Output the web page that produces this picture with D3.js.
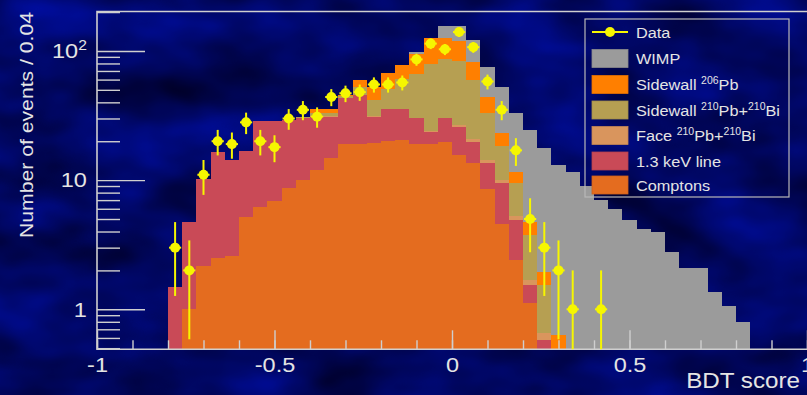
<!DOCTYPE html>
<html>
<head>
<meta charset="utf-8">
<script src="https://cdn.jsdelivr.net/npm/d3@7"></script>
<style>
  html, body { margin: 0; padding: 0; background: #03096a; }
  svg { display: block; }
  text { font-family: "Liberation Sans", Arial, Helvetica, sans-serif; fill: #e4e4e4; }
</style>
</head>
<body>
<svg id="chart" width="807" height="395"></svg>
<script>
// BDT score distribution: stacked background models, WIMP signal and data (bins of 0.04)
const binStart = -0.80;
const binWidth = 0.04;

// Bin contents from -0.80 to 0.84, one entry per bin
const comptons = [0, 1.0, 2.15, 2.5, 2.6, 5.15, 6.15, 6.9, 8.7, 10.0, 11.9, 14.9, 19.0, 19.2, 19.4, 20.1, 20.6, 19.2, 19.0, 19.8, 15.6, 13.6, 8.6, 4.6, 2.41, 1.11,
  0, 0, 0, 0, 0, 0, 0, 0, 0, 0, 0, 0, 0, 0, 0];
const line13 = [1.5, 3.7, 8.1, 14.1, 11.7, 11.6, 22.6, 22.0, 20.5, 20.0, 19.0, 16.0, 24.0, 26.0, 11.5, 15.2, 14.7, 10.8, 4.6, 10.2, 10.2, 6.2, 5.0, 4.9, 2.5, 0.43, 0.58,
  0, 0, 0, 0, 0, 0, 0, 0, 0, 0, 0, 0, 0, 0];
const face210 = [0, 0, 0, 0, 0, 0, 0, 0, 0, 0.2, 0.3, 0.3, 0.4, 0.5, 0.5, 0.5, 0.5, 0.5, 0.4, 0.5, 0.8, 0.9, 0.8, 0.6, 0.4, 0.15, 0.07,
  0, 0, 0, 0, 0, 0, 0, 0, 0, 0, 0, 0, 0, 0];
const sidewall210 = [0, 0, 0, 0, 0, 0, 0, 0, 0, 0.5, 1.8, 1.8, 1.1, 7.0, 10.2, 15.2, 25.0, 36.0, 55.5, 56.5, 57.4, 39.4, 18.7, 8.2, 4.13, 2.06, 0.89,
  0, 0, 0, 0, 0, 0, 0, 0, 0, 0, 0, 0, 0, 0];
const sidewall206 = [0, 0, 0, 0, 0, 0, 0, 0, 0, 0.3, 2.8, 2.8, 1.0, 6.6, 11.1, 16.0, 16.7, 28.5, 45.5, 39.0, 36.0, 22.1, 11.0, 4.7, 2.17, 1.01, 0.41, 0.63,
  0, 0, 0, 0, 0, 0, 0, 0, 0, 0, 0, 0, 0];
const wimp = [0, 0, 0, 0, 0, 0, 0, 0, 0, 0, 0, 0, 0, 0, 0, 0, 0, 3.5, 2.0, 30, 37, 38.8, 31.1, 29.7, 21.2, 19.6, 15.65, 12.5, 11.5, 9.0, 7.0, 6.0, 4.9, 4.2, 4.0, 2.8, 2.07, 2.1, 1.37, 1.06, 0.8];
const dataCounts = [3, 2, 11, 20, 19, 28, 20, 18, 30, 35, 31, 44, 47, 48, 55, 55, 57, 86, 114, 103, 140, 107, 58, 35, 17, 5, 3, 2, 1, 0, 1,
  0, 0, 0, 0, 0, 0, 0, 0, 0, 0];

const xTickLabels = [-1, -0.5, 0, 0.5, 1];
const yTickLabels = [1, 10, 100];
const yMinorTicks = [0.5, 0.6, 0.7, 0.8, 0.9, 2, 3, 4, 5, 6, 7, 8, 9, 20, 30, 40, 50, 60, 70, 80, 90, 200];

// Stack order, bottom to top
const layers = [
  { key: "comptons", values: comptons, color: "#e46c1f", label: ["Comptons"] },
  { key: "line13", values: line13, color: "#c94a57", label: ["1.3 keV line"] },
  { key: "face210", values: face210, color: "#d9955d", label: ["Face ", ["210"], "Pb+", ["210"], "Bi"] },
  { key: "sidewall210", values: sidewall210, color: "#b69f52", label: ["Sidewall ", ["210"], "Pb+", ["210"], "Bi"] },
  { key: "sidewall206", values: sidewall206, color: "#ff7f00", label: ["Sidewall ", ["206"], "Pb"] },
  { key: "wimp", values: wimp, color: "#9b9b9b", label: ["WIMP"] }
];

const W = 807, H = 395;
const svg = d3.select("#chart");

// Textured navy backdrop
const defs = svg.append("defs");
const tex = defs.append("filter").attr("id", "tex")
  .attr("filterUnits", "userSpaceOnUse").attr("x", 0).attr("y", 0).attr("width", W).attr("height", H)
  .attr("color-interpolation-filters", "sRGB");
tex.append("feTurbulence").attr("type", "fractalNoise").attr("baseFrequency", "0.010 0.018")
  .attr("numOctaves", 3).attr("seed", 5);
tex.append("feColorMatrix").attr("type", "matrix")
  .attr("values", "0 0 0 0 0  0.06 0 0 0 -0.005  0.55 0 0 0 0.11  0 0 0 0 1");
svg.append("rect").attr("width", W).attr("height", H).attr("filter", "url(#tex)");

const plotL = 97, plotR = 807, plotT = 11.5, plotB = 349.3;
const x = d3.scaleLinear().domain([-1, 1]).range([plotL, plotR]);
const y = d3.scaleLog().domain([0.49, 202]).range([plotB, plotT]).clamp(true);

// Stacked histogram, one stepped area per component
const rows = dataCounts.map((_, i) => {
  const r = { lo: binStart + i * binWidth };
  layers.forEach(l => { r[l.key] = l.values[i]; });
  return r;
});
const stack = d3.stack().keys(layers.map(l => l.key))(rows);
const area = d3.area()
  .x(p => x(p.x))
  .y0(p => y(p.b > 0 ? p.b : 0.49))
  .y1(p => y(p.t > 0 ? p.t : 0.49));
const gHist = svg.append("g").attr("shape-rendering", "crispEdges");
stack.forEach((series, si) => {
  const steps = [];
  series.forEach(d => {
    steps.push({ x: d.data.lo, b: d[0], t: d[1] });
    steps.push({ x: d.data.lo + binWidth, b: d[0], t: d[1] });
  });
  gHist.append("path").attr("d", area(steps)).attr("fill", layers[si].color);
});

// Axes with inward ticks
const axisColor = "#cfcfcf";
function styleAxis(g) {
  g.select(".domain").remove();
  g.selectAll(".tick line").attr("stroke", axisColor).attr("stroke-width", 1.4);
}
svg.append("g").attr("transform", `translate(0,${plotB})`)
  .call(d3.axisBottom(x).tickValues(d3.range(-10, 11).map(v => v / 10)).tickSize(-9).tickFormat(""))
  .call(styleAxis);
const gxMajor = svg.append("g").attr("transform", `translate(0,${plotB})`)
  .call(d3.axisBottom(x).tickValues(xTickLabels).tickSize(-19).tickPadding(7.5).tickFormat(d => String(d)))
  .call(styleAxis);
gxMajor.selectAll(".tick text").attr("font-size", 21).attr("fill", "#e4e4e4")
  .attr("font-family", "'Liberation Sans', Arial, sans-serif").attr("transform", "scale(1.12,1)");

svg.append("g").attr("transform", `translate(${plotL},0)`)
  .call(d3.axisLeft(y).tickValues(yMinorTicks).tickSize(-23).tickFormat(""))
  .call(styleAxis);
const gyMajor = svg.append("g").attr("transform", `translate(${plotL},0)`)
  .call(d3.axisLeft(y).tickValues(yTickLabels).tickSize(-48).tickPadding(9)
    .tickFormat(d => d === 100 ? "10" : String(d)))
  .call(styleAxis);
gyMajor.selectAll(".tick text").attr("font-size", 21).attr("fill", "#e4e4e4")
  .attr("font-family", "'Liberation Sans', Arial, sans-serif").attr("transform", "scale(1.12,1)")
  .each(function (d) {
    if (d === 100) {
      d3.select(this).append("tspan").attr("dy", "-0.55em").attr("font-size", 14).text("2");
    }
  });

// Frame
svg.append("path")
  .attr("d", `M${plotR},${plotT}H${plotL}V${plotB}H${plotR}`)
  .attr("fill", "none").attr("stroke", axisColor).attr("stroke-width", 1.6);

// Data with Poisson error bars
const yellow = "#f6f600";
const pts = rows.map((r, i) => ({ lo: r.lo, n: dataCounts[i] })).filter(d => d.n > 0);
const gData = svg.append("g");
gData.selectAll("line.v").data(pts).join("line").attr("class", "v")
  .attr("x1", d => x(d.lo + binWidth / 2)).attr("x2", d => x(d.lo + binWidth / 2))
  .attr("y1", d => y(Math.max(d.n - Math.sqrt(d.n), 1e-6))).attr("y2", d => y(d.n + Math.sqrt(d.n)))
  .attr("stroke", yellow).attr("stroke-width", 2);
gData.selectAll("line.h").data(pts).join("line").attr("class", "h")
  .attr("x1", d => x(d.lo) + 1).attr("x2", d => x(d.lo + binWidth) - 1)
  .attr("y1", d => y(d.n)).attr("y2", d => y(d.n))
  .attr("stroke", yellow).attr("stroke-width", 2);
gData.selectAll("circle").data(pts).join("circle")
  .attr("cx", d => x(d.lo + binWidth / 2)).attr("cy", d => y(d.n)).attr("r", 5)
  .attr("fill", yellow);

// Axis titles
svg.append("text").attr("transform", "translate(800,388) scale(1.1,1)")
  .attr("text-anchor", "end").attr("font-size", 22).text("BDT score");
svg.append("text").attr("transform", "translate(33,12) rotate(-90)")
  .attr("text-anchor", "end").attr("font-size", 19)
  .attr("textLength", 226).attr("lengthAdjust", "spacingAndGlyphs")
  .text("Number of events / 0.04");

// Legend
const leg = svg.append("g");
leg.append("rect").attr("x", 585).attr("y", 19).attr("width", 204).attr("height", 178)
  .attr("fill", "none").attr("stroke", "#b8b8b8").attr("stroke-width", 1.2);
const entryY = [32, 58.5, 84.5, 110, 135.5, 161, 185];
const legendEntries = [{ data: true, label: ["Data"] }].concat(layers.slice().reverse());
legendEntries.forEach((e, i) => {
  const cy = entryY[i];
  if (e.data) {
    leg.append("line").attr("x1", 592).attr("x2", 628).attr("y1", cy).attr("y2", cy)
      .attr("stroke", yellow).attr("stroke-width", 2);
    leg.append("circle").attr("cx", 610).attr("cy", cy).attr("r", 5).attr("fill", yellow);
  } else {
    leg.append("rect").attr("x", 592).attr("y", cy - 9).attr("width", 36).attr("height", 18)
      .attr("fill", e.color).attr("stroke", d3.color(e.color).darker(0.3)).attr("stroke-width", 0.8);
  }
  const t = leg.append("text").attr("transform", `translate(636,${cy + 5.5}) scale(1.05,1)`)
    .attr("font-size", 15.5);
  e.label.forEach(part => {
    if (Array.isArray(part)) {
      t.append("tspan").attr("font-size", 10).attr("dy", -6).text(part[0]);
    } else {
      const s = t.append("tspan").text(part);
      if (t.selectAll("tspan").size() > 1) s.attr("dy", 6);
    }
  });
});
</script>
</body>
</html>
